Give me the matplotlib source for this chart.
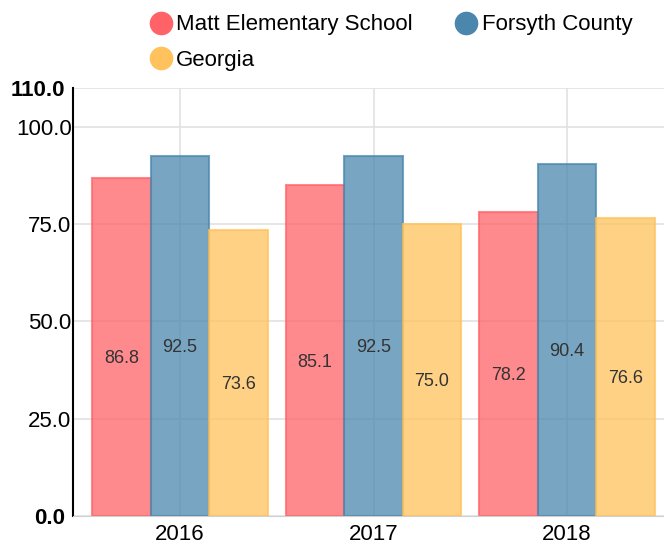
import numpy as np
import matplotlib
matplotlib.use("Agg")
from matplotlib import pyplot as plt
from matplotlib.lines import Line2D
from matplotlib.transforms import ScaledTranslation

years = ['2016', '2017', '2018']
series_names = ['Matt Elementary School', 'Forsyth County', 'Georgia']
matt = [86.8, 85.1, 78.2]
forsyth = [92.5, 92.5, 90.4]
georgia = [73.6, 75.0, 76.6]
yticks = [0, 25, 50, 75, 100, 110]

fills = ['#ff6368', '#4b87ad', '#ffc25c']
edges = ['#ff6368', '#4b87ad', '#ffc25c']

plt.rcParams['font.family'] = ['Liberation Sans', 'DejaVu Sans']

fig = plt.figure(figsize=(6.64, 5.47), dpi=100)
ax = fig.add_axes([73 / 664, 1 - 516 / 547, 1 - 73 / 664, (516 - 88) / 547])

x = np.arange(len(years))
w = 0.302
for i, vals in enumerate([matt, forsyth, georgia]):
    pos = x + (i - 1) * w
    ax.bar(pos, vals, width=w, color=fills[i], alpha=0.75,
           edgecolor=edges[i], linewidth=1.5, zorder=2)
    for p, v in zip(pos, vals):
        ax.text(p, v / 2 - 3, f'{v:.1f}', ha='center', va='center',
                fontsize=13, color='#333333', zorder=3)

ax.set_xlim(-0.5 - 10 / 193.5, 2.5)
ax.set_ylim(0, 110)
ax.set_xticks(x)
ax.set_xticklabels(years, fontsize=16)
ax.set_yticks(yticks)
ax.set_yticklabels([f'{t:.1f}' for t in yticks], fontsize=16)
ax.tick_params(length=0)
ax.tick_params(axis='y', pad=1)
ax.tick_params(axis='x', pad=6)
shift = ScaledTranslation(-6 / 100, 0, fig.dpi_scale_trans)
for lab in ax.get_yticklabels():
    if lab.get_text() in ('0.0', '110.0'):
        lab.set_fontweight('bold')
        lab.set_transform(lab.get_transform() + shift)
ax.grid(True, color='#e2e2e2', linewidth=1.2, zorder=0)
ax.set_axisbelow(True)
for s in ['top', 'right']:
    ax.spines[s].set_visible(False)
ax.spines['bottom'].set_color('#d0d0d0')
ax.spines['left'].set_color('black')
ax.spines['left'].set_linewidth(1.5)

handles = [Line2D([], [], marker='o', linestyle='none', markersize=16,
                  markerfacecolor=fills[i], markeredgecolor=fills[i])
           for i in [0, 2, 1]]
labels = [series_names[i] for i in [0, 2, 1]]
fig.legend(handles, labels, ncol=2, loc='upper left', bbox_to_anchor=(124 / 664, 1.0),
           frameon=False, fontsize=16, handletextpad=-0.3, columnspacing=1.4,
           labelspacing=0.65, borderpad=0.15)

fig.savefig('out.png', dpi=100)
